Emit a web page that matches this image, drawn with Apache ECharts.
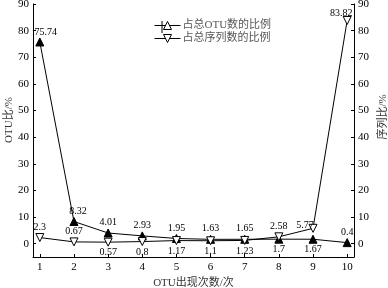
<!DOCTYPE html>
<html><head><meta charset="utf-8">
<script src="https://cdn.jsdelivr.net/npm/echarts@6/dist/echarts.min.js"></script>
<style>html,body{margin:0;padding:0;background:#fff}#c{width:388px;height:288px}</style>
</head><body><div id="c"></div>
<script>
const categories = [1, 2, 3, 4, 5, 6, 7, 8, 9, 10];
const otuShare = [75.74, 8.32, 4.01, 2.93, 1.95, 1.63, 1.65, 1.7, 1.67, 0.4];
const seqShare = [2.3, 0.67, 0.57, 0.8, 1.17, 1.1, 1.23, 2.58, 5.77, 83.82];
const yTicks = [0, 10, 20, 30, 40, 50, 60, 70, 80, 90];
const seriesNames = ['占总OTU数的比例', '占总序列数的比例'];
const xName = 'OTU出现次数/次';
const yLeftName = 'OTU比/%';
const yRightName = '序列比/%';

// label placement styles
const otuLabelPos = ['top','top','top','top','top','top','top','bottom','bottom','top'];
const otuLabelOff = [[6,1],[4,0],[0,0],[0,0],[0,0],[0,0],[0,0],[0,0],[0,0],[0,0]];
const seqLabelPos = ['top','top','bottom','bottom','bottom','bottom','bottom','top','top','top'];
const seqLabelOff = [[0,0],[0,0],[0,0],[0,0],[0,0],[0,0],[0,0],[0,0],[-8,8],[-6,3]];

const serif = '"Liberation Serif", "Times New Roman", serif';
const cjk = '"Liberation Serif", "Noto Sans CJK SC", serif';

function build(vals, pos, off) {
  return vals.map((v, i) => ({
    value: [categories[i], v],
    label: { position: pos[i], offset: off[i] }
  }));
}

const chart = echarts.init(document.getElementById('c'), null, { renderer: 'canvas' });
const axisCommon = {
  type: 'value', min: -5, max: 90,
  axisLine: { show: true, onZero: false, lineStyle: { color: '#000', width: 1 } },
  axisTick: { show: true, inside: true, length: 3, customValues: yTicks, lineStyle: { color: '#000' } },
  axisLabel: { customValues: yTicks, margin: 4, color: '#000', fontSize: 11, fontFamily: serif },
  splitLine: { show: false }
};
chart.setOption({
  animation: false,
  backgroundColor: '#fff',
  grid: { left: 33, right: 34, top: 4, bottom: 31, containLabel: false, outerBoundsMode: 'none' },
  legend: {
    orient: 'vertical', left: 149, top: 15,
    itemWidth: 26, itemHeight: 10, itemGap: 2,
    lineStyle: { width: 1, color: '#000' },
    textStyle: { fontSize: 11, color: '#555', fontFamily: cjk, padding: [0,0,0,-3] },
    data: [
      { name: seriesNames[0], itemStyle: { color: '#fff', borderColor: '#000', borderWidth: 1 } },
      { name: seriesNames[1], itemStyle: { color: '#fff', borderColor: '#000', borderWidth: 1 } }
    ]
  },
  xAxis: {
    type: 'value', min: 0.8, max: 10.2,
    name: xName, nameLocation: 'middle', nameGap: 20,
    nameTextStyle: { fontSize: 11, color: '#333', fontFamily: cjk },
    axisLine: { show: true, onZero: false, lineStyle: { color: '#000', width: 1 } },
    axisTick: { show: true, inside: true, length: 3, customValues: categories, lineStyle: { color: '#000' } },
    axisLabel: { customValues: categories, margin: 5, color: '#000', fontSize: 11, fontFamily: serif },
    splitLine: { show: false }
  },
  yAxis: [
    Object.assign({}, axisCommon, { position: 'left' }),
    Object.assign({}, axisCommon, { position: 'right' })
  ],
  graphic: [
    { type: 'text', x: 9, y: 120, rotation: Math.PI / 2,
      style: { text: yLeftName, fontSize: 11, fill: '#333', fontFamily: cjk, align: 'center', verticalAlign: 'middle' } },
    { type: 'text', x: 383, y: 117, rotation: Math.PI / 2,
      style: { text: yRightName, fontSize: 11, fill: '#333', fontFamily: cjk, align: 'center', verticalAlign: 'middle' } },
    { type: 'line', shape: { x1: 162, y1: 21, x2: 162, y2: 33 }, style: { stroke: '#000', lineWidth: 1 } }
  ],
  series: [
    {
      name: seriesNames[0], type: 'line', yAxisIndex: 0,
      data: build(otuShare, otuLabelPos, otuLabelOff),
      symbol: 'triangle', symbolSize: 8,
      itemStyle: { color: '#000', borderColor: '#000' },
      lineStyle: { color: '#000', width: 1 },
      label: { show: true, distance: 1, fontSize: 10, color: '#000', fontFamily: serif },
      z: 2
    },
    {
      name: seriesNames[1], type: 'line', yAxisIndex: 1,
      data: build(seqShare, seqLabelPos, seqLabelOff),
      symbol: 'triangle', symbolRotate: 180, symbolSize: 8,
      itemStyle: { color: '#fff', borderColor: '#000', borderWidth: 1 },
      lineStyle: { color: '#000', width: 1 },
      label: { show: true, distance: 1, fontSize: 10, color: '#000', fontFamily: serif },
      z: 3
    }
  ]
});
</script></body></html>
